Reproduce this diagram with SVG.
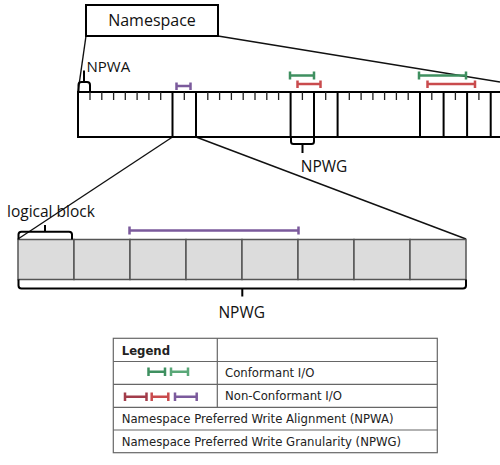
<svg xmlns="http://www.w3.org/2000/svg" width="500" height="465" viewBox="0 0 500 465">
<style>
.lbl{font-family:"Open Sans","DejaVu Sans",sans-serif;fill:#111}
.lg{font-family:"DejaVu Sans","Open Sans",sans-serif;font-size:11.7px;fill:#222}
.k{fill:none;stroke:#000;stroke-width:2}
.tick{fill:none;stroke:#222;stroke-width:1.3}
.conn{fill:none;stroke:#111;stroke-width:1.4}
.br{fill:none;stroke:#000;stroke-width:2;stroke-linejoin:round}
.cell{fill:#dcdcdc;stroke:#555;stroke-width:1.5}
.tb{fill:none;stroke:#666;stroke-width:1.2}
.g{stroke:#3f9060;stroke-width:2.5;fill:none}
.r{stroke:#c94b4d;stroke-width:2.5;fill:none}
.dr{stroke:#a23c4a;stroke-width:2.5;fill:none}
.p{stroke:#7b5a9c;stroke-width:2.5;fill:none}
</style>
<rect width="500" height="465" fill="#fff"/>
<g id="connectors">
  <line class="conn" x1="86" y1="36" x2="78" y2="92"/>
  <line class="conn" x1="218" y1="36" x2="500" y2="82"/>
  <line class="conn" x1="172.5" y1="137" x2="18" y2="239"/>
  <line class="conn" x1="196" y1="137" x2="466" y2="239"/>
</g>
<g id="namespace">
  <rect class="k" x="86" y="5" width="132" height="31"/>
  <text class="lbl" x="152" y="25.5" font-size="16" text-anchor="middle">Namespace</text>
</g>
<g id="namespace-bar">
  <path class="k" d="M500,92H78V137H500"/>
  <path class="tick" d="M90,92v8M101.8,92v8M113.6,92v8M125.3,92v8M137.1,92v8M148.9,92v8M160.7,92v8M184.3,92v8M207.8,92v8M219.6,92v8M231.4,92v8M243.2,92v8M255,92v8M266.8,92v8M278.6,92v8M302.4,92v8M325.7,92v8M349.3,92v8M361.1,92v8M372.9,92v8M384.6,92v8M396.4,92v8M408.2,92v8M431.8,92v8M455.4,92v8M478.9,92v8"/>
  <path class="k" d="M172.5,92V137M196,92V137M290.6,92V137M314,92V137M337.6,92V137M420,92V137M443.6,92V137M467.1,92V137M490.7,92V137"/>
  <path class="p" d="M176.5,86H190.5M176.5,82.5V90M190.5,82.5V90"/>
  <path class="g" d="M290,75.5H314M290,71.5V79.5M314,71.5V79.5"/>
  <path class="r" d="M297.5,84H320.5M297.5,80.5V88M320.5,80.5V88"/>
  <path class="g" d="M419,75.5H466M419,71.5V79.5M466,71.5V79.5"/>
  <path class="r" d="M427.5,84H475M427.5,80.5V88M475,80.5V88"/>
</g>
<g id="npwa">
  <path class="br" d="M78.5,92V85Q78.5,82 81.5,82H87Q90,82 90,85V92M84,82V70.5"/>
  <text class="lbl" x="86.5" y="71.8" font-size="15">NPWA</text>
</g>
<g id="npwg-top">
  <path class="br" d="M291,137V141.5Q291,144 293.5,144H311.5Q314,144 314,141.5V137M302.5,144V153"/>
  <text class="lbl" x="300.8" y="171.8" font-size="15.5">NPWG</text>
</g>
<g id="logical-blocks">
  <rect class="cell" x="18" y="239.5" width="56" height="40"/>
  <rect class="cell" x="74" y="239.5" width="56" height="40"/>
  <rect class="cell" x="130" y="239.5" width="56" height="40"/>
  <rect class="cell" x="186" y="239.5" width="56" height="40"/>
  <rect class="cell" x="242" y="239.5" width="56" height="40"/>
  <rect class="cell" x="298" y="239.5" width="56" height="40"/>
  <rect class="cell" x="354" y="239.5" width="56" height="40"/>
  <rect class="cell" x="410" y="239.5" width="56" height="40"/>
  <path class="p" d="M129.5,230.5H298.5M129.5,226.5V234.5M298.5,226.5V234.5"/>
</g>
<g id="logical-block">
  <path class="br" d="M18.5,239.5V234.5Q18.5,231.7 21.5,231.7H69Q72,231.7 72,234.5V239.5M45,231.7V225"/>
  <text class="lbl" x="7" y="216.8" font-size="15.5">logical block</text>
</g>
<g id="npwg-bottom">
  <path class="br" d="M18.5,279.5V285.5Q18.5,288.5 21.5,288.5H463Q466,288.5 466,285.5V279.5M242.3,288.5V296.5"/>
  <text class="lbl" x="241.7" y="318.3" font-size="15.5" text-anchor="middle">NPWG</text>
</g>
<g id="legend">
  <rect class="tb" x="113.3" y="338.3" width="324" height="114.4"/>
  <path class="tb" d="M217.3,338.3V407.3M113.3,361.5H437.3M113.3,384.3H437.3M113.3,407.3H437.3M113.3,430H437.3"/>
  <text class="lg" x="121.7" y="355" font-weight="bold">Legend</text>
  <path class="g" d="M148.5,371.7H165M148.5,367.5V376M165,367.5V376"/>
  <path class="g" style="stroke:#5aa878" d="M171,371.7H188M171,367.5V376M188,367.5V376"/>
  <text class="lg" x="225" y="376.7">Conformant I/O</text>
  <path class="dr" d="M125,396.7H146.5M125,392.5V401M146.5,392.5V401"/>
  <path class="r" d="M151.7,396.7H168.3M151.7,392.5V401M168.3,392.5V401"/>
  <path class="p" d="M175,396.7H196.7M175,392.5V401M196.7,392.5V401"/>
  <text class="lg" x="225" y="400">Non-Conformant I/O</text>
  <text class="lg" x="121.7" y="423">Namespace Preferred Write Alignment (NPWA)</text>
  <text class="lg" x="121.7" y="446">Namespace Preferred Write Granularity (NPWG)</text>
</g>
</svg>
